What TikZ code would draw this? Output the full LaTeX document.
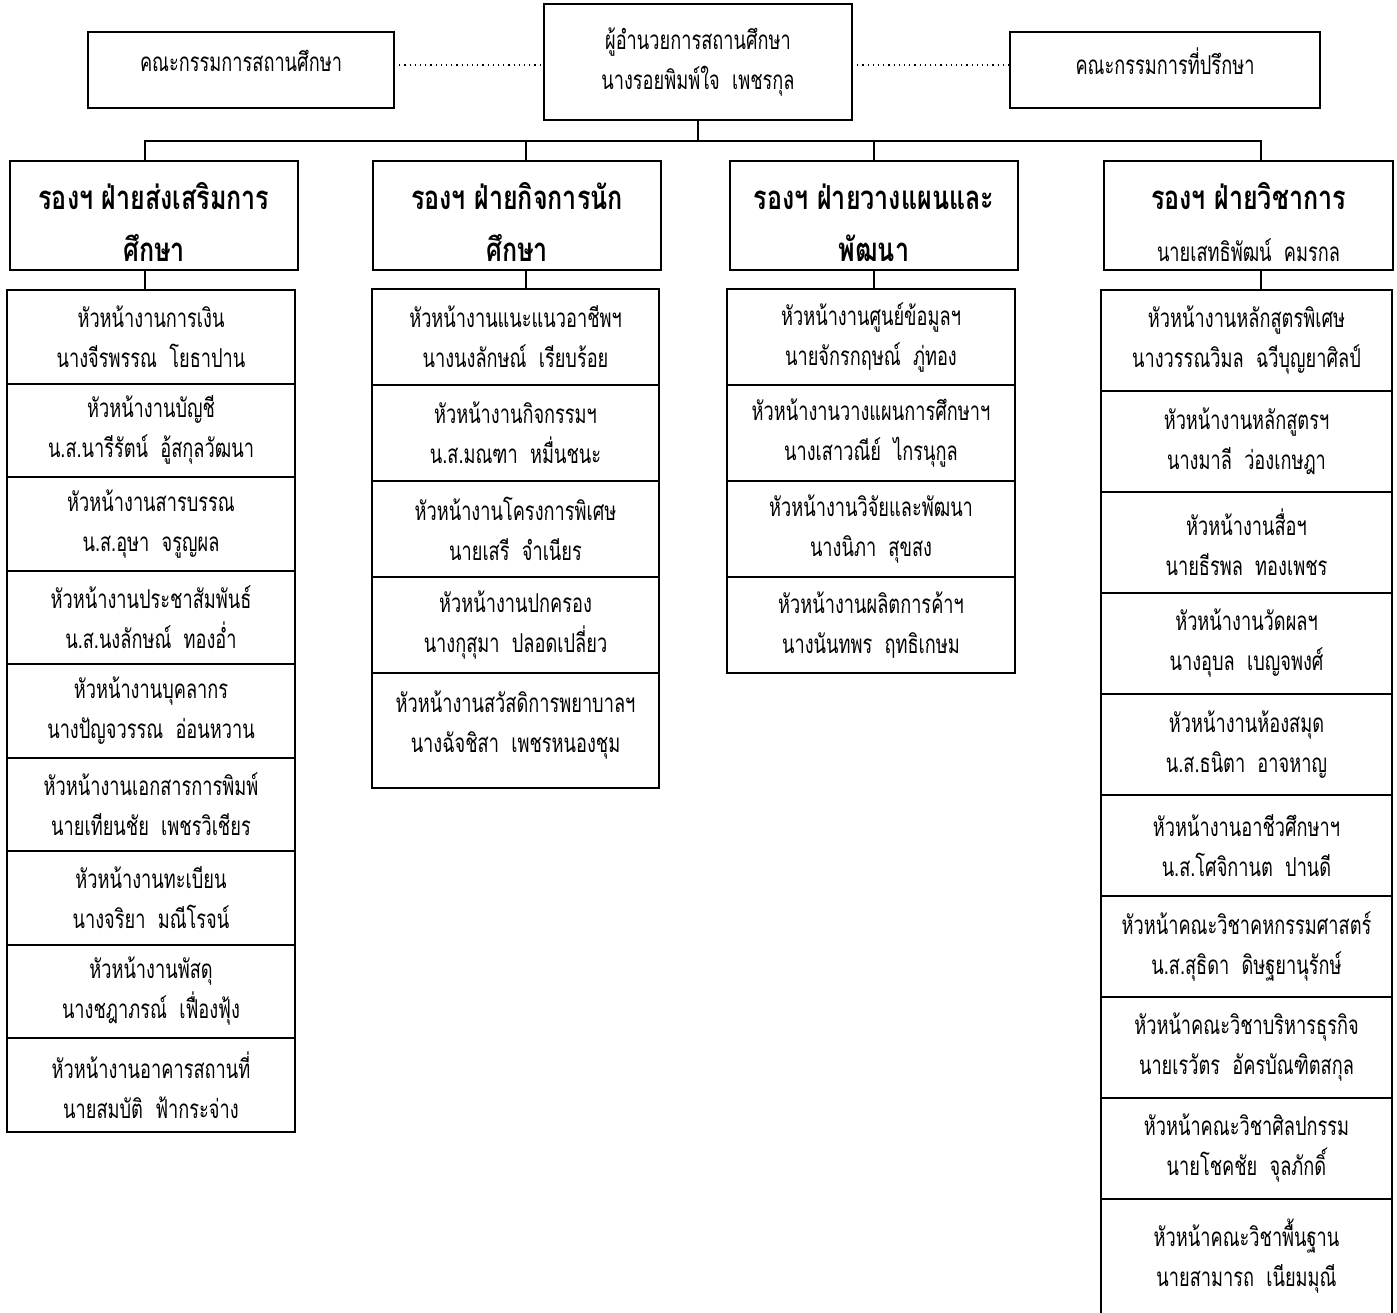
\documentclass[tikz,border=0pt]{standalone}
\usepackage{fontspec}
\newfontfamily\thaifont[Script=Thai, FakeStretch=0.70]{Loma}
\newfontfamily\thaiheadfont[Script=Thai, FakeStretch=0.76]{Loma}
\newcommand{\thaitext}{\thaifont\mdseries\fontsize{13}{20}\selectfont}
\newcommand{\thaititle}{\thaiheadfont\bfseries\fontsize{16.5}{26}\selectfont}
\newcommand{\lowerby}{\rule{0pt}{20pt}}
\newcommand{\raiseby}{\rule[-9pt]{0pt}{9pt}}
\usetikzlibrary{positioning}
\tikzstyle{board} = [rectangle, minimum width=153pt, minimum height=38pt, align=center, draw=black, line width=1pt, outer sep=0pt, font=\thaitext]
\tikzstyle{deputy} = [rectangle, minimum width=144pt, minimum height=54.5pt, inner ysep=0pt, align=center, draw=black, line width=1pt, outer sep=0pt, font=\thaititle]
\tikzstyle{unit} = [rectangle, align=center, draw=black, line width=1pt, outer sep=0pt, font=\thaitext]
\tikzstyle{unitA} = [unit, minimum width=144pt, minimum height=46.75pt]
\tikzstyle{unitB} = [unit, minimum width=143.5pt, minimum height=48pt]
\tikzstyle{unitC} = [unit, minimum width=144pt, minimum height=48pt]
\tikzstyle{unitD} = [unit, minimum width=145.5pt, minimum height=50.5pt]
\tikzstyle{link} = [line width=1pt]
\tikzstyle{dots} = [dotted, line width=0.6pt]

\begin{document}
\begin{tikzpicture}[x=0.5pt, y=-0.5pt]
\clip (0,0) rectangle (1397,1312);

% top row
\node (director) [board, minimum width=154pt, minimum height=58pt] at (698,62) {ผู้อำนวยการสถานศึกษา\\นางรอยพิมพ์ใจ~~เพชรกุล};
\node (board) [board] at (241,70) {คณะกรรมการสถานศึกษา\raiseby};
\node (advisor) [board, minimum width=155pt] at (1165,70) {คณะกรรมการที่ปรึกษา\raiseby};

% deputies
\node (dep1) [deputy] at (154,215.5) {\lowerby รองฯ ฝ่ายส่งเสริมการ\\ศึกษา};
\node (dep2) [deputy] at (517,215.5) {\lowerby รองฯ ฝ่ายกิจการนัก\\ศึกษา};
\node (dep3) [deputy] at (874,215.5) {\lowerby รองฯ ฝ่ายวางแผนและ\\พัฒนา};
\node (dep4) [deputy, minimum width=144.5pt] at (1248.5,215.5) {\lowerby รองฯ ฝ่ายวิชาการ\\{\thaitext นายเสทธิพัฒน์~~คมรกล}};

% column 1
\node (a1) [unitA, anchor=north] at (151,290) {หัวหน้างานการเงิน\\นางจีรพรรณ~~โยธาปาน};
\node (a2) [unitA, below=0pt of a1] {หัวหน้างานบัญชี\\น.ส.นารีรัตน์~~อู้สกุลวัฒนา};
\node (a3) [unitA, below=0pt of a2] {หัวหน้างานสารบรรณ\\น.ส.อุษา~~จรูญผล};
\node (a4) [unitA, below=0pt of a3] {หัวหน้างานประชาสัมพันธ์\\น.ส.นงลักษณ์~~ทองอ่ำ};
\node (a5) [unitA, below=0pt of a4] {หัวหน้างานบุคลากร\\นางปัญจวรรณ~~อ่อนหวาน};
\node (a6) [unitA, below=0pt of a5] {หัวหน้างานเอกสารการพิมพ์\\นายเทียนชัย~~เพชรวิเชียร};
\node (a7) [unitA, below=0pt of a6] {หัวหน้างานทะเบียน\\นางจริยา~~มณีโรจน์};
\node (a8) [unitA, below=0pt of a7] {หัวหน้างานพัสดุ\\นางชฎาภรณ์~~เฟื่องฟุ้ง};
\node (a9) [unitA, below=0pt of a8] {หัวหน้างานอาคารสถานที่\\นายสมบัติ~~ฟ้ากระจ่าง};

% column 2
\node (b1) [unitB, anchor=north] at (515.5,289) {หัวหน้างานแนะแนวอาชีพฯ\\นางนงลักษณ์~~เรียบร้อย};
\node (b2) [unitB, below=0pt of b1] {หัวหน้างานกิจกรรมฯ\\น.ส.มณฑา~~หมื่นชนะ};
\node (b3) [unitB, below=0pt of b2] {หัวหน้างานโครงการพิเศษ\\นายเสรี~~จำเนียร};
\node (b4) [unitB, below=0pt of b3] {หัวหน้างานปกครอง\\นางกุสุมา~~ปลอดเปลี่ยว};
\node (b5) [unitB, minimum height=57.5pt, below=0pt of b4] {หัวหน้างานสวัสดิการพยาบาลฯ\\นางฉัจชิสา~~เพชรหนองชุม\raiseby};

% column 3
\node (c1) [unitC, anchor=north] at (871,289) {หัวหน้างานศูนย์ข้อมูลฯ\\นายจักรกฤษณ์~~ภู่ทอง};
\node (c2) [unitC, below=0pt of c1] {หัวหน้างานวางแผนการศึกษาฯ\\นางเสาวณีย์~~ไกรนุกูล};
\node (c3) [unitC, below=0pt of c2] {หัวหน้างานวิจัยและพัฒนา\\นางนิภา~~สุขสง};
\node (c4) [unitC, below=0pt of c3] {หัวหน้างานผลิตการค้าฯ\\นางนันทพร~~ฤทธิเกษม};

% column 4
\node (d1) [unitD, anchor=north] at (1246.5,290) {หัวหน้างานหลักสูตรพิเศษ\\นางวรรณวิมล~~ฉวีบุญยาศิลป์};
\node (d2) [unitD, below=0pt of d1] {หัวหน้างานหลักสูตรฯ\\นางมาลี~~ว่องเกษฎา};
\node (d3) [unitD, below=0pt of d2] {หัวหน้างานสื่อฯ\\นายธีรพล~~ทองเพชร};
\node (d4) [unitD, below=0pt of d3] {หัวหน้างานวัดผลฯ\\นางอุบล~~เบญจพงศ์};
\node (d5) [unitD, below=0pt of d4] {หัวหน้างานห้องสมุด\\น.ส.ธนิตา~~อาจหาญ};
\node (d6) [unitD, below=0pt of d5] {หัวหน้างานอาชีวศึกษาฯ\\น.ส.โศจิกานต~~ปานดี};
\node (d7) [unitD, below=0pt of d6] {หัวหน้าคณะวิชาคหกรรมศาสตร์\\น.ส.สุธิดา~~ดิษฐยานุรักษ์};
\node (d8) [unitD, below=0pt of d7] {หัวหน้าคณะวิชาบริหารธุรกิจ\\นายเรวัตร~~อัครบัณฑิตสกุล};
\node (d9) [unitD, below=0pt of d8] {หัวหน้าคณะวิชาศิลปกรรม\\นายโชคชัย~~จุลภักดิ์};
\node (d10) [unitD, minimum height=62.5pt, below=0pt of d9] {หัวหน้าคณะวิชาพื้นฐาน\\นายสามารถ~~เนียมมุณี\raiseby};

\coordinate (bar) at (698,141);

\draw [dots] ([yshift=2.5pt]board.east) -- ([yshift=2.5pt]board.east -| director.west);
\draw [dots] ([yshift=2.5pt]director.east |- advisor) -- ([yshift=2.5pt]advisor.west);
\draw [link] (director) -- (bar);
\draw [link] ([xshift=-4.5pt]dep1.north) |- (bar) -| ([xshift=6pt]dep4.north);
\draw [link] ([xshift=4.5pt]dep2.north) -- ([xshift=4.5pt]dep2.north |- bar);
\draw [link] (dep3.north) -- (dep3.north |- bar);
\draw [link] ([xshift=-4.5pt]dep1.south) -- ([xshift=-4.5pt]dep1.south |- a1.north);
\draw [link] ([xshift=4.5pt]dep2.south) -- ([xshift=4.5pt]dep2.south |- b1.north);
\draw [link] (dep3.south) -- (dep3.south |- c1.north);
\draw [link] ([xshift=6pt]dep4.south) -- ([xshift=6pt]dep4.south |- d1.north);

\end{tikzpicture}
\end{document}
